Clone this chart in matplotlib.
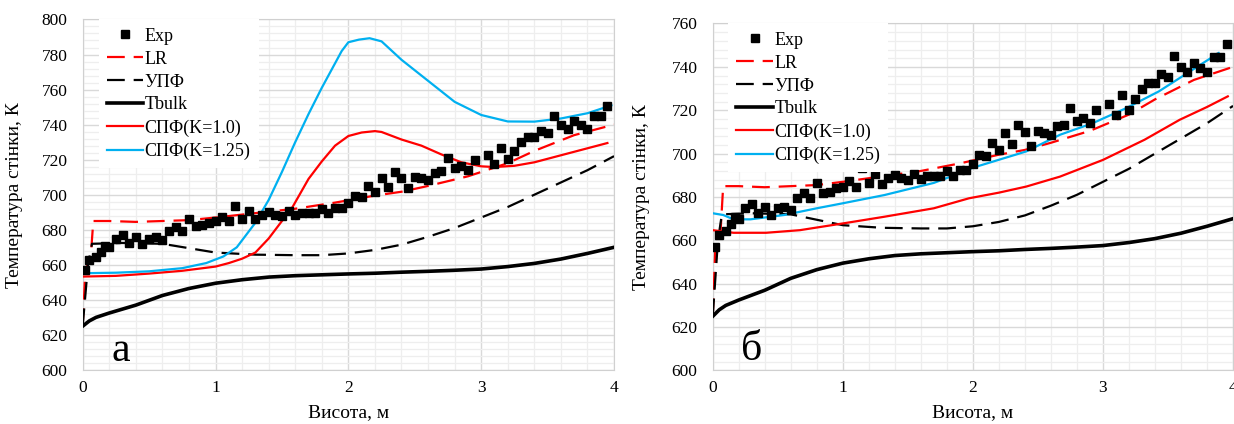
import matplotlib
matplotlib.use("Agg")
import matplotlib.pyplot as plt
from matplotlib.ticker import MultipleLocator

plt.rcParams['font.family'] = ['Liberation Serif', 'DejaVu Serif']

# експериментальні точки (однакові для обох випадків)
x_exp = [0.02, 0.05, 0.10, 0.14, 0.17, 0.20, 0.25, 0.30, 0.35, 0.40, 0.45, 0.50, 0.55, 0.60,
         0.65, 0.70, 0.75, 0.80, 0.85, 0.90, 0.95, 1.00, 1.05, 1.10, 1.15, 1.20, 1.25, 1.30,
         1.35, 1.40, 1.45, 1.50, 1.55, 1.60, 1.65, 1.70, 1.75, 1.80, 1.85, 1.90, 1.95, 2.00,
         2.05, 2.10, 2.15, 2.20, 2.25, 2.30, 2.35, 2.40, 2.45, 2.50, 2.55, 2.60, 2.65, 2.70,
         2.75, 2.80, 2.85, 2.90, 2.95, 3.05, 3.10, 3.15, 3.20, 3.25, 3.30, 3.35, 3.40, 3.45,
         3.50, 3.55, 3.60, 3.65, 3.70, 3.75, 3.80, 3.85, 3.90, 3.95]
t_exp = [656.8, 662.5, 664.4, 667.4, 670.6, 670.0, 674.8, 676.8, 672.5, 675.6, 671.7, 674.8,
         675.6, 674.0, 679.4, 681.8, 679.4, 686.4, 682.0, 682.5, 684.0, 684.8, 687.2, 684.8,
         693.3, 686.4, 690.7, 686.0, 688.7, 690.3, 688.7, 688.0, 690.7, 688.2, 689.5, 689.5,
         689.5, 691.8, 689.5, 692.3, 692.6, 695.0, 699.5, 698.7, 705.0, 701.5, 709.5, 704.6,
         713.0, 709.8, 703.7, 710.3, 709.5, 708.5, 712.6, 713.4, 721.0, 715.0, 716.5, 714.2,
         719.9, 722.7, 717.6, 726.8, 720.3, 725.0, 730.0, 732.7, 732.7, 736.5, 735.5, 745.0,
         740.0, 737.6, 742.0, 739.6, 737.6, 744.7, 744.7, 750.7]

# Tbulk
x_tb = [0, 0.05, 0.1, 0.2, 0.4, 0.6, 0.8, 1.0, 1.2, 1.4, 1.6, 1.8, 2.0, 2.2, 2.4, 2.6, 2.8,
        3.0, 3.2, 3.4, 3.6, 3.8, 4.0]
t_tb = [625, 628, 630, 632.5, 637, 642.5, 646.5, 649.5, 651.5, 653, 653.8, 654.3, 654.8,
        655.2, 655.8, 656.3, 656.9, 657.6, 659, 660.8, 663.3, 666.5, 670]

# LR
x_lr = [0, 0.02, 0.06, 0.08, 0.2, 0.4, 0.6, 0.8, 1.0, 1.3, 1.6, 1.9, 2.2, 2.4, 2.6, 2.9,
        3.0, 3.2, 3.4, 3.7, 4.0]
t_lr = [625, 657, 664, 685, 685, 684.5, 685, 685.5, 687, 689.5, 692, 695.5, 699.5, 701.7,
        705, 710.5, 713, 718, 725, 734, 740]

# УПФ
x_upf = [0, 0.04, 0.07, 0.3, 0.6, 0.8, 1.0, 1.3, 1.6, 1.8, 2.0, 2.2, 2.4, 2.6, 2.8, 3.0,
         3.2, 3.4, 3.6, 3.8, 4.0]
t_upf = [625, 660, 672, 672.5, 672, 669.5, 667, 665.8, 665.5, 665.5, 666.5, 668.5, 671.5,
         676, 681, 687, 693, 700, 707, 714, 722]

# СПФ, випадок а
x_k10_a = [0, 0.25, 0.5, 0.75, 1.0, 1.1, 1.2, 1.3, 1.4, 1.5, 1.58, 1.7, 1.8, 1.9, 2.0, 2.1,
           2.2, 2.25, 2.4, 2.55, 2.7, 2.85, 3.0, 3.1, 3.25, 3.4, 3.6, 3.8, 3.95]
t_k10_a = [653.3, 653.7, 655, 656.6, 659, 661, 663.5, 667, 675, 685, 693, 709, 719, 728,
           733.5, 735.5, 736.3, 735.8, 731.5, 728, 723, 718.5, 716.2, 715.8, 716.5, 718.5,
           722.5, 726.5, 729.5]
x_k125_a = [0, 0.25, 0.5, 0.75, 0.93, 1.06, 1.16, 1.2, 1.3, 1.4, 1.5, 1.6, 1.7, 1.8, 1.9,
            1.95, 2.0, 2.08, 2.16, 2.25, 2.4, 2.6, 2.8, 3.0, 3.2, 3.4, 3.6, 3.8, 3.98]
t_k125_a = [655.2, 655.5, 656.3, 658.1, 661, 664.8, 670, 674, 684, 697, 713, 730, 746, 761,
            775, 782, 787, 788.5, 789.3, 787.5, 777, 765, 753, 745.5, 741.8, 741.7, 743.5,
            746.5, 751]

# СПФ, випадок б
x_k10_b = [0, 0.16, 0.41, 0.67, 1.0, 1.32, 1.7, 1.97, 2.2, 2.41, 2.67, 3.0, 3.32, 3.59,
           3.8, 3.96]
t_k10_b = [664.7, 663.5, 663.5, 664.7, 667.8, 670.9, 674.8, 679.4, 682, 684.8, 689.4,
           697.1, 706.4, 715.6, 721.5, 726.4]
x_k125_b = [0, 0.08, 0.16, 0.29, 0.55, 0.8, 1.0, 1.32, 1.7, 1.9, 2.0, 2.41, 2.67, 2.92,
            3.18, 3.43, 3.69, 3.89]
t_k125_b = [672.5, 671.7, 669.7, 669.7, 671.7, 674.8, 677.1, 680.9, 686.5, 691, 693.5,
            701, 708.7, 714, 721, 728.7, 738.7, 746.4]

RED = '#ff0000'
BLUE = '#00b0f0'

fig = plt.figure(figsize=(12.34, 4.24), dpi=100)
ax1 = fig.add_axes([0.0670, 0.1274, 0.4306, 0.8267])
ax2 = fig.add_axes([0.5776, 0.1262, 0.4216, 0.8184])


def draw(ax, k10, k125, ymax, letter, ylab_x):
    ax.plot(x_exp, t_exp, 's', color='black', ms=5.2, label='Exp', zorder=6)
    ax.plot(x_lr, t_lr, color=RED, lw=1.6, dashes=(8, 4), label='LR', zorder=4)
    ax.plot(x_upf, t_upf, color='black', lw=1.6, dashes=(8, 4), label='УПФ', zorder=4)
    ax.plot(x_tb, t_tb, color='black', lw=2.6, label='Tbulk', zorder=4)
    ax.plot(k10[0], k10[1], color=RED, lw=1.6, label='СПФ(K=1.0)', zorder=5)
    ax.plot(k125[0], k125[1], color=BLUE, lw=1.6, label='СПФ(K=1.25)', zorder=5)

    ax.set_xlim(0, 4)
    ax.set_ylim(600, ymax)
    ax.xaxis.set_major_locator(MultipleLocator(1))
    ax.xaxis.set_minor_locator(MultipleLocator(0.2))
    ax.yaxis.set_major_locator(MultipleLocator(20))
    ax.yaxis.set_minor_locator(MultipleLocator(4))
    ax.grid(which='major', color='#d9d9d9', lw=1.0, zorder=0)
    ax.grid(which='minor', color='#eeeeee', lw=0.9, zorder=0)
    ax.set_axisbelow(True)
    ax.tick_params(which='both', length=0, labelsize=12.5)
    ax.tick_params(axis='y', pad=11)
    ax.tick_params(axis='x', pad=7)
    for s in ax.spines.values():
        s.set_color('#d0d0d0')

    ax.set_xlabel('Висота, м', fontsize=14, labelpad=6)
    ax.set_ylabel('Температура стінки, К', fontsize=14)
    ax.yaxis.set_label_coords(ylab_x, 0.5)

    leg = ax.legend(loc='upper left', bbox_to_anchor=(0.03, 1.0), borderaxespad=0,
                    fontsize=13, frameon=True, fancybox=False, framealpha=1,
                    edgecolor='none', handlelength=2.0, handletextpad=0.1,
                    labelspacing=0.33, borderpad=0.45)
    leg.set_zorder(10)

    ax.text(0.22, 605, letter, fontsize=30, va='baseline', zorder=7)


draw(ax1, (x_k10_a, t_k10_a), (x_k125_a, t_k125_a), 800, 'а', -0.113)
draw(ax2, (x_k10_b, t_k10_b), (x_k125_b, t_k125_b), 760, 'б', -0.121)

fig.savefig('out.png', dpi=100)
